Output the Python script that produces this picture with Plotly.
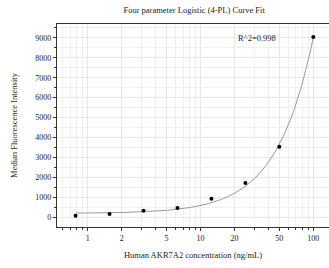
import numpy as np
import plotly.graph_objects as go

conc = [0.78125, 1.5625, 3.125, 6.25, 12.5, 25, 50, 100]
mfi = [85, 170, 335, 470, 935, 1720, 3535, 9035]

# estimated 4-PL fit parameters (bottom, slope, inflection, top)
fit_a = 200
fit_b = 1.35
fit_c = 10000
fit_d = 200 + 17.63 * 10000 ** 1.35

x_ticks = [1, 2, 5, 10, 20, 50, 100]
y_ticks = [0, 1000, 2000, 3000, 4000, 5000, 6000, 7000, 8000, 9000]

xs = np.logspace(np.log10(conc[0]), np.log10(conc[-1]), 200)
ys = fit_d + (fit_a - fit_d) / (1 + (xs / fit_c) ** fit_b)

serif = "Liberation Serif"
fig = go.Figure()
fig.add_trace(go.Scatter(x=xs, y=ys, mode="lines",
                         line=dict(color="#9a9a9a", width=1), hoverinfo="skip"))
fig.add_trace(go.Scatter(x=conc, y=mfi, mode="markers",
                         marker=dict(color="black", size=4, symbol="circle")))

fig.update_layout(
    width=329, height=268,
    margin=dict(l=57, r=0, t=24, b=41),
    plot_bgcolor="white", paper_bgcolor="white",
    showlegend=False,
    font=dict(family=serif, size=8, color="#222"),
    title=dict(text="Four parameter Logistic (4-PL) Curve Fit", x=0.59, xanchor="center",
               y=0.962, yanchor="middle", font=dict(family=serif, size=8.5, color="#222")),
    annotations=[dict(text="R^2=0.998", x=0.735, xref="paper", y=9000, yref="y",
                      showarrow=False, xanchor="center", yanchor="middle",
                      font=dict(family=serif, size=8.5, color="#222"))],
)
fig.update_xaxes(
    type="log", range=[-0.272, 2.139], automargin=False,
    tickvals=x_ticks, ticktext=[str(v) for v in x_ticks],
    ticks="outside", ticklen=3, tickcolor="#333",
    showline=True, linecolor="#333", linewidth=1.2, mirror=True,
    showgrid=True, gridcolor="#e8e8e8", gridwidth=1,
    minor=dict(tickvals=[0.6, 0.7, 0.8, 0.9, 3, 4, 6, 7, 8, 9, 30, 40, 60, 70, 80, 90],
               ticks="outside", ticklen=2, tickcolor="#333", showgrid=True, gridcolor="#efefef"),
    zeroline=False,
    title=dict(text="Human AKR7A2 concentration (ng/mL)", standoff=10,
               font=dict(family=serif, size=8.5, color="#222")),
)
fig.update_yaxes(
    range=[-480, 9690], automargin=False,
    tickvals=y_ticks,
    ticks="outside", ticklen=3, tickcolor="#333",
    showline=True, linecolor="#333", linewidth=1.2, mirror=False,
    showgrid=True, gridcolor="#e8e8e8", gridwidth=1,
    minor=dict(dtick=500, ticks="outside", ticklen=2, tickcolor="#333",
               showgrid=True, gridcolor="#efefef"),
    zeroline=False,
    title=dict(text="Median Fluorescence Intensity", standoff=16,
               font=dict(family=serif, size=8.5, color="#222")),
)
fig.write_html("out.html", config={"displayModeBar": False},
               post_script="document.body.style.margin='0';")
